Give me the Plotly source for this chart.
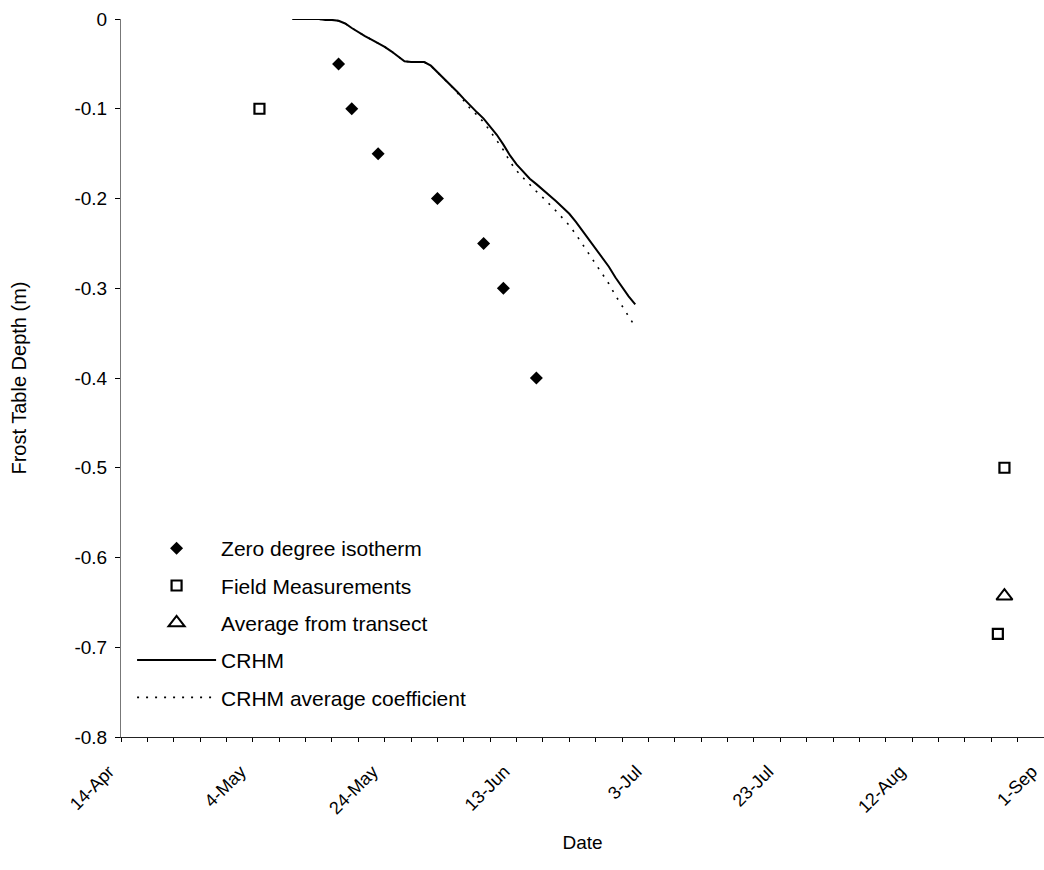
import pandas as pd
import plotly.graph_objects as go

# Zero degree isotherm depth from soil temperature profiles
iso_dates = ["2003-05-17", "2003-05-19", "2003-05-23", "2003-06-01",
             "2003-06-08", "2003-06-11", "2003-06-16"]
iso_depth = [-0.05, -0.10, -0.15, -0.20, -0.25, -0.30, -0.40]

# Frost table depth measured in the field
field_dates = ["2003-05-05", "2003-08-26", "2003-08-25"]
field_depth = [-0.10, -0.50, -0.685]

# Mean of the transect survey
transect_dates = ["2003-08-26"]
transect_depth = [-0.643]

# Daily simulated frost table depth, 10 May - 1 Jul
crhm_start = "2003-05-10"
crhm_depth = [0.000, 0.000, 0.000, 0.000, 0.000, -0.001, -0.001, -0.002,
              -0.005, -0.010, -0.015, -0.019, -0.023, -0.027, -0.031, -0.036,
              -0.042, -0.047, -0.048, -0.048, -0.048, -0.052, -0.059, -0.066,
              -0.073, -0.081, -0.089, -0.097, -0.104, -0.111, -0.120, -0.129,
              -0.140, -0.152, -0.162, -0.170, -0.178, -0.184, -0.190, -0.196,
              -0.203, -0.210, -0.217, -0.226, -0.236, -0.246, -0.255, -0.265,
              -0.276, -0.288, -0.299, -0.309, -0.318]
crhm_avg_depth = [0.000, 0.000, 0.000, 0.000, 0.000, -0.001, -0.001, -0.002,
                  -0.005, -0.010, -0.015, -0.019, -0.023, -0.027, -0.031, -0.036,
                  -0.042, -0.047, -0.048, -0.048, -0.048, -0.052, -0.059, -0.067,
                  -0.074, -0.082, -0.091, -0.100, -0.107, -0.115, -0.125, -0.135,
                  -0.146, -0.159, -0.169, -0.177, -0.185, -0.192, -0.199, -0.206,
                  -0.214, -0.222, -0.230, -0.240, -0.251, -0.262, -0.272, -0.283,
                  -0.295, -0.308, -0.320, -0.331, -0.343]
crhm_dates = pd.date_range(crhm_start, periods=len(crhm_depth), freq="D")

# Depth axis ticks
y_tick_vals = [0, -0.1, -0.2, -0.3, -0.4, -0.5, -0.6, -0.7, -0.8]
y_tick_text = ["0", "-0.1", "-0.2", "-0.3", "-0.4", "-0.5", "-0.6", "-0.7", "-0.8"]

FONT = "Liberation Sans, Arial, sans-serif"
DAY_MS = 86400000

fig = go.Figure()

fig.add_trace(go.Scatter(
    x=crhm_dates, y=crhm_avg_depth, mode="lines",
    name="CRHM average coefficient", legendrank=5, legendgroup="e",
    line=dict(color="black", width=1.6, dash="2px,7px"),
))
fig.add_trace(go.Scatter(
    x=crhm_dates, y=crhm_depth, mode="lines",
    name="CRHM", legendrank=4, legendgroup="d",
    line=dict(color="black", width=2),
))
fig.add_trace(go.Scatter(
    x=iso_dates, y=iso_depth, mode="markers",
    name="Zero degree isotherm", legendrank=1, legendgroup="a",
    marker=dict(symbol="diamond", size=10, color="black"),
))
fig.add_trace(go.Scatter(
    x=field_dates, y=field_depth, mode="markers",
    name="Field Measurements", legendrank=2, legendgroup="b",
    marker=dict(symbol="square-open", size=10, color="black",
                line=dict(width=2.2, color="black")),
))
fig.add_trace(go.Scatter(
    x=transect_dates, y=transect_depth, mode="markers",
    name="Average from transect", legendrank=3, legendgroup="c",
    marker=dict(symbol="triangle-up-open", size=14, color="black",
                line=dict(width=2, color="black")),
))

fig.update_layout(
    width=1044, height=870,
    margin=dict(l=121, r=0, t=19, b=133, autoexpand=False),
    paper_bgcolor="white", plot_bgcolor="white",
    font=dict(family=FONT, color="black", size=18),
    legend=dict(
        x=0.012, y=0.291, xanchor="left", yanchor="top",
        bgcolor="rgba(0,0,0,0)", borderwidth=0,
        font=dict(family=FONT, size=21, color="black"),
        itemwidth=79, tracegroupgap=7, traceorder="grouped",
    ),
    showlegend=True,
)

fig.update_xaxes(
    type="date", automargin=False,
    range=["2003-04-14", "2003-09-01"],
    tick0="2003-04-14", dtick=20 * DAY_MS, tickformat="%-d-%b",
    tickangle=-45, ticks="outside", ticklen=4, tickwidth=1, tickcolor="black",
    minor=dict(dtick=4 * DAY_MS, tick0="2003-04-14", ticks="outside",
               ticklen=4, tickwidth=1, tickcolor="black"),
    showline=True, linecolor="#222", linewidth=1,
    showgrid=False, zeroline=False,
    ticklabeloverflow="allow", ticklabelstandoff=12, ticklabelshift=-12,
    tickfont=dict(size=18, family=FONT),
    title=dict(text="Date", font=dict(size=19, family=FONT), standoff=18),
)

fig.update_yaxes(
    automargin=False,
    range=[-0.8, 0], tickvals=y_tick_vals, ticktext=y_tick_text,
    ticks="outside", ticklen=5, tickwidth=1, tickcolor="black",
    showline=True, linecolor="#777", linewidth=1,
    showgrid=False, zeroline=False,
    ticklabelstandoff=4,
    tickfont=dict(size=19, family=FONT),
    title=dict(text="Frost Table Depth (m)", font=dict(size=20, family=FONT),
               standoff=42),
)

fig.write_html("out.html")
